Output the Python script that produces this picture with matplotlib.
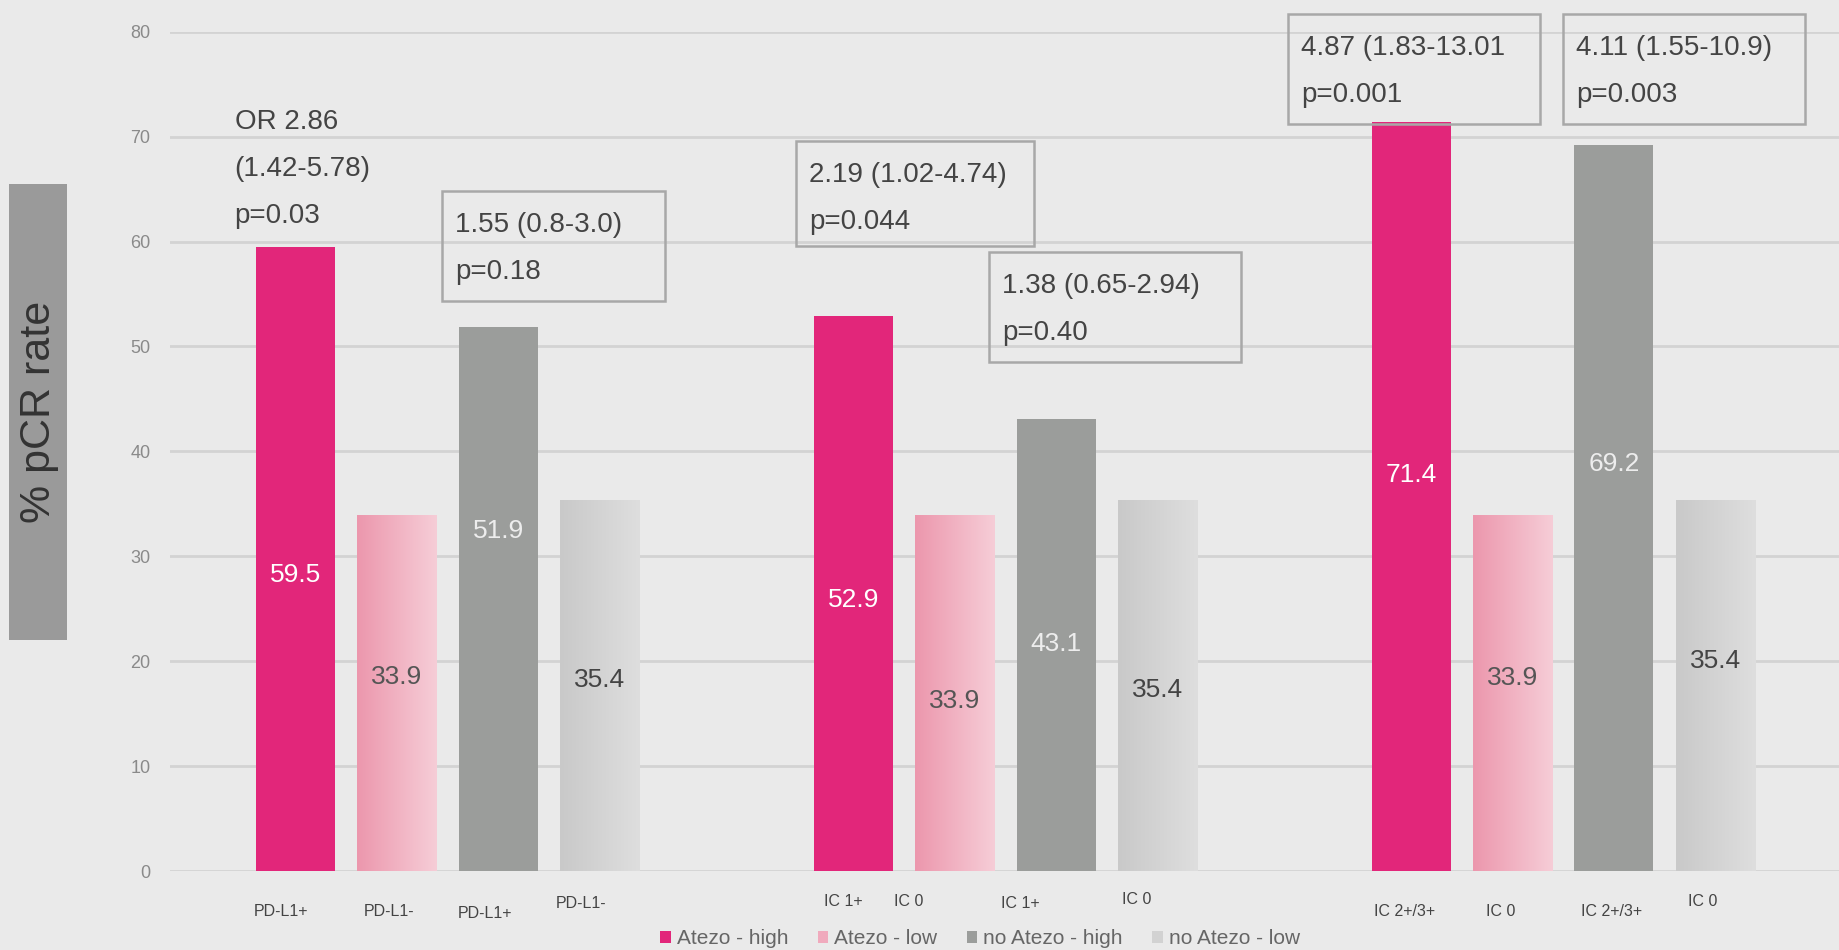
import numpy as np
import matplotlib
matplotlib.use("Agg")
import matplotlib.pyplot as plt
from matplotlib.patches import Patch, Rectangle
from matplotlib.transforms import offset_copy

# --- data ---
tick_labels = ["PD-L1+", "PD-L1-", "PD-L1+", "PD-L1-",
               "IC 1+", "IC 0", "IC 1+", "IC 0",
               "IC 2+/3+", "IC 0", "IC 2+/3+", "IC 0"]
series_names = ["Atezo - high", "Atezo - low", "no Atezo - high", "no Atezo - low"]
atezo_high = [59.5, 52.9, 71.4]
atezo_low = [33.9, 33.9, 33.9]
no_atezo_high = [51.9, 43.1, 69.2]
no_atezo_low = [35.4, 35.4, 35.4]
or_texts = ["OR 2.86\n(1.42-5.78)\np=0.03",
            "1.55 (0.8-3.0)\np=0.18",
            "2.19 (1.02-4.74)\np=0.044",
            "1.38 (0.65-2.94)\np=0.40",
            "4.87 (1.83-13.01\np=0.001",
            "4.11 (1.55-10.9)\np=0.003"]

# --- layout / style ---
plt.rcParams["font.family"] = ["Liberation Sans", "DejaVu Sans"]

bg = "#EAEAEA"
colors = ["#E2267A", "#F0AABD", "#9B9D9B", "#D2D2D2"]
grads = [None, ("#EC97AD", "#F6CDD7"), None, ("#C9C9C9", "#DEDEDE")]
label_colors = ["white", "#555555", "#EDEDED", "#444444"]
group_starts = np.array([0, 5.5, 11])
bar_w = 0.78
# y position of the value text inside each bar, per series
label_y = [[28.2, 25.8, 37.7], [18.5, 16.2, 18.4], [32.4, 21.6, 38.8], [18.2, 17.3, 20.0]]
# tick label tweaks: x shift (data units), drop below axis (px)
tick_dx = [-0.14, -0.08, -0.13, -0.18, -0.10, -0.45, -0.35, -0.21, -0.06, -0.12, -0.02, -0.12]
tick_dy = [40, 40, 43, 33, 30, 30, 32, 29, 40, 40, 40, 30]
# annotation boxes: x0, x1, ytop, ybottom (None = no frame)
boxes = [(-0.60, None, 72.6, None),
         (1.445, 3.644, 64.8, 54.3),
         (4.936, 7.283, 69.6, 59.6),
         (6.839, 9.324, 59.0, 48.5),
         (9.788, 12.27, 81.7, 71.2),
         (12.50, 14.88, 81.7, 71.2)]

fig = plt.figure(figsize=(18.39, 9.5), dpi=100, facecolor=bg)
ax = fig.add_axes([170 / 1839, 1 - 871 / 950, 1669 / 1839, 839.3 / 950])
ax.set_facecolor(bg)

series = [atezo_high, atezo_low, no_atezo_high, no_atezo_low]
for i, vals in enumerate(series):
    xs = group_starts + i
    bars = ax.bar(xs, vals, width=bar_w, color=colors[i], zorder=3)
    if grads[i] is not None:
        cmap = matplotlib.colors.LinearSegmentedColormap.from_list("g%d" % i, grads[i])
        for b in bars:
            b.set_facecolor("none")
            im = ax.imshow(np.linspace(0, 1, 100).reshape(1, -1), cmap=cmap,
                           extent=[b.get_x(), b.get_x() + b.get_width(), 0, b.get_height()],
                           aspect="auto", zorder=3)
            im.set_clip_path(b)
    for x, v, ly in zip(xs, vals, label_y[i]):
        ax.text(x, ly, f"{v:.1f}", ha="center", va="center", fontsize=19,
                color=label_colors[i], zorder=4)

ax.set_xlim(-1.238, 15.22)
ax.set_ylim(0, 80)
ax.set_yticks(range(0, 81, 10))
ax.tick_params(axis="y", length=0, pad=14, labelsize=13, labelcolor="#8A8A8A")
ax.set_xticks([])
ax.grid(axis="y", color="#D3D3D3", linewidth=2, zorder=0)
for s in ax.spines.values():
    s.set_visible(False)

# category labels under bars
all_x = np.sort(np.concatenate([group_starts + i for i in range(4)]))
for x, lab, dx, dy in zip(all_x, tick_labels, tick_dx, tick_dy):
    tr = offset_copy(ax.get_xaxis_transform(), fig=fig, x=0, y=-dy, units="dots")
    ax.text(x + dx, 0, lab, transform=tr, ha="center", va="center",
            fontsize=11.5, color="#444444", clip_on=False)

# odds ratio annotations
for txt, (x0, x1, ytop, ybot) in zip(or_texts, boxes):
    if x1 is not None:
        ax.add_patch(Rectangle((x0, ybot), x1 - x0, ytop - ybot, fill=False,
                               edgecolor="#A8A8A8", linewidth=1.8, clip_on=False, zorder=5))
        ax.text(x0 + 0.13, ytop - 2.0, txt, ha="left", va="top", fontsize=20,
                color="#444444", linespacing=2.05, clip_on=False, zorder=5)
    else:
        ax.text(x0, ytop, txt, ha="left", va="top", fontsize=20,
                color="#444444", linespacing=2.05, clip_on=False, zorder=5)

# y label in a grey box
fig.add_artist(Rectangle((9 / 1839, 1 - 640 / 950), 58 / 1839, 456 / 950,
                         transform=fig.transFigure, facecolor="#9A9A9A", edgecolor="none"))
fig.text(39 / 1839, 1 - 412 / 950, "% pCR rate", rotation=90, ha="center", va="center",
         fontsize=31, color="#333333")

handles = [Patch(facecolor=c, edgecolor="none") for c in colors]
fig.legend(handles, series_names, loc="center", bbox_to_anchor=(0.533, 0.012), ncol=4,
           frameon=False, fontsize=15, labelcolor="#666666", handlelength=0.5,
           handleheight=0.5, handletextpad=0.3, columnspacing=1.4)

fig.savefig("out.png", dpi=100, facecolor=bg)
